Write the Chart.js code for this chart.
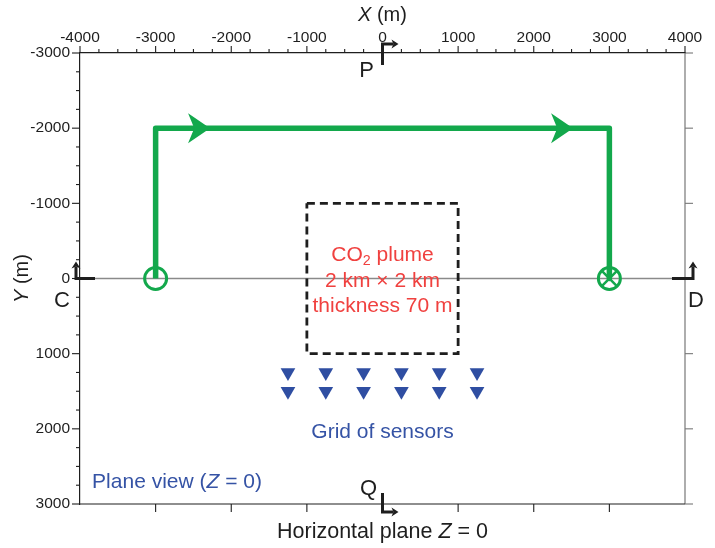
<!DOCTYPE html>
<html>
<head>
<meta charset="utf-8">
<script src="https://cdn.jsdelivr.net/npm/chart.js@4.4.1/dist/chart.umd.min.js"></script>
<style>
  html, body { margin: 0; padding: 0; background: #fff; }
  #wrap { width: 715px; height: 548px; }
</style>
</head>
<body>
<div id="wrap"><canvas id="plane-view" width="715" height="548"></canvas></div>
<script>
// Datos del esquema (metros)
const xRange = [-4000, 4000];
const yRange = [-3000, 3000];
const minorStep = 250;
const majorStep = 1000;

// linea Y = 0
const zeroLineX = [-4000, 4000];
const zeroLineY = [0, 0];

// recorrido verde fuente -> receptor
const pathX = [-3000, -3000, 3000, 3000];
const pathY = [0, -2000, -2000, 0];
const pathArrowX = [-2280, 2520];
const pathArrowY = [-2000, -2000];

const sourceX = [-3000];
const sourceY = [0];
const receiverX = [3000];
const receiverY = [0];

// pluma de CO2 (caja discontinua)
const plumeX = [-1000, 1000, 1000, -1000, -1000];
const plumeY = [-1000, -1000, 1000, 1000, -1000];

// malla de sensores
const sensorCols = [-1250, -750, -250, 250, 750, 1250];
const sensorRows = [1250, 1500];

// cortes P, Q, C, D
const sectionNames = ['P', 'Q', 'C', 'D'];
const sectionX = [0, 0, -4000, 4000];
const sectionY = [-3000, 3000, 0, 0];

// textos dentro del grafico
const noteLabels = [
    [['CO'], ['2', 'sub'], [' plume']],
    [['2 km \u00d7 2 km']],
    [['thickness 70 m']],
    [['Grid of sensors']],
    [['Plane view ('], ['Z', 'it'], [' = 0)']]
];
const noteX = [0, 0, 0, 0, -3840];
const noteY = [-315, 30, 365, 2040, 2710];

const xTitle = [['X', 'it'], [' (m)']];
const yTitle = [['Y', 'it'], [' (m)']];
const bottomTitle = [['Horizontal plane '], ['Z', 'it'], [' = 0']];

// Colores
const green = '#13a84c';
const red = '#f0413f';
const blue = '#3553a5';
const sensorBlue = '#2f4ea2';
const ink = '#1e1e1e';
const family = '"Liberation Sans", Arial, Helvetica, sans-serif';

const noteAlign = ['center', 'center', 'center', 'center', 'left'];
const noteColor = [red, red, red, blue, blue];

const toPoints = (xs, ys) => xs.map((v, i) => ({ x: v, y: ys[i] }));
const sensorPoints = [];
sensorRows.forEach(r => sensorCols.forEach(c => sensorPoints.push({ x: c, y: r })));

// texto con partes en cursiva / subindice
function drawParts(ctx, parts, x, y, align, size, color) {
    const fontOf = s => (s === 'it' ? 'italic ' : '') + (s === 'sub' ? size * 0.68 : size) + 'px ' + family;
    let total = 0;
    parts.forEach(p => { ctx.font = fontOf(p[1]); total += ctx.measureText(p[0]).width; });
    let cx = align === 'center' ? x - total / 2 : x;
    ctx.fillStyle = color;
    ctx.textAlign = 'left';
    ctx.textBaseline = 'middle';
    parts.forEach(p => {
        ctx.font = fontOf(p[1]);
        ctx.fillText(p[0], cx, p[1] === 'sub' ? y + size * 0.3 : y);
        cx += ctx.measureText(p[0]).width;
    });
}

function arrowHead(ctx, tx, ty, dir, len, half) {
    // dir: 'right' o 'up'
    ctx.beginPath();
    if (dir === 'right') {
        ctx.moveTo(tx, ty);
        ctx.lineTo(tx - len, ty - half);
        ctx.lineTo(tx - len * 0.72, ty);
        ctx.lineTo(tx - len, ty + half);
    } else {
        ctx.moveTo(tx, ty);
        ctx.lineTo(tx - half, ty + len);
        ctx.lineTo(tx, ty + len * 0.72);
        ctx.lineTo(tx + half, ty + len);
    }
    ctx.closePath();
    ctx.fill();
}

// formas de los cortes (desplazamientos en pixeles)
const sectionShape = {
    P: { tail: [0, 12], corner: [0, -9], tip: [16, -9], dir: 'right', label: [-16, 18] },
    Q: { tail: [0, -11], corner: [0, 8], tip: [16, 8], dir: 'right', label: [-14, -15] },
    C: { tail: [15, 0], corner: [-4, 0], tip: [-4, -17], dir: 'up', label: [-18, 22] },
    D: { tail: [-13, 0], corner: [8, 0], tip: [8, -17], dir: 'up', label: [11, 22] }
};

const planeDecor = {
    id: 'planeDecor',
    afterDatasetsDraw(chart) {
        const { ctx, chartArea: a, scales: { x, y } } = chart;
        ctx.save();

        // marco derecho (gris) e inferior
        ctx.lineWidth = 1.2;
        ctx.strokeStyle = '#777';
        ctx.beginPath();
        ctx.moveTo(a.right, a.top);
        ctx.lineTo(a.right, a.bottom);
        ctx.stroke();
        ctx.strokeStyle = ink;
        ctx.beginPath();
        ctx.moveTo(a.left, a.bottom);
        ctx.lineTo(a.right, a.bottom);
        ctx.stroke();

        // marcas de los ejes
        ctx.lineWidth = 1.1;
        x.ticks.forEach(t => {
            const px = x.getPixelForValue(t.value);
            const major = t.value % majorStep === 0;
            ctx.strokeStyle = ink;
            ctx.beginPath();
            ctx.moveTo(px, a.top);
            ctx.lineTo(px, a.top - (major ? 7 : 4));
            ctx.stroke();
            if (major && t.value > xRange[0] && t.value < xRange[1]) {
                ctx.beginPath();
                ctx.moveTo(px, a.bottom);
                ctx.lineTo(px, a.bottom + 8);
                ctx.stroke();
            }
        });
        y.ticks.forEach(t => {
            const py = y.getPixelForValue(t.value);
            const major = t.value % majorStep === 0;
            ctx.strokeStyle = ink;
            ctx.beginPath();
            ctx.moveTo(a.left, py);
            ctx.lineTo(a.left - (major ? 8 : 4), py);
            ctx.stroke();
            if (major) {
                ctx.strokeStyle = '#777';
                ctx.beginPath();
                ctx.moveTo(a.right, py);
                ctx.lineTo(a.right + 8, py);
                ctx.stroke();
            }
        });

        // flechas sobre el recorrido
        ctx.fillStyle = green;
        pathArrowX.forEach((v, i) => {
            arrowHead(ctx, x.getPixelForValue(v), y.getPixelForValue(pathArrowY[i]), 'right', 22, 15);
        });

        // cortes
        sectionNames.forEach((name, i) => {
            const s = sectionShape[name];
            const ax = x.getPixelForValue(sectionX[i]);
            const ay = y.getPixelForValue(sectionY[i]);
            ctx.strokeStyle = ink;
            ctx.fillStyle = ink;
            ctx.lineWidth = 3;
            ctx.lineCap = 'butt';
            ctx.beginPath();
            ctx.moveTo(ax + s.tail[0], ay + s.tail[1]);
            ctx.lineTo(ax + s.corner[0], ay + s.corner[1]);
            const back = 5;
            if (s.dir === 'right') ctx.lineTo(ax + s.tip[0] - back, ay + s.tip[1]);
            else ctx.lineTo(ax + s.tip[0], ay + s.tip[1] + back);
            ctx.stroke();
            arrowHead(ctx, ax + s.tip[0], ay + s.tip[1], s.dir, 7, 4.5);
            drawParts(ctx, [[name]], ax + s.label[0], ay + s.label[1], 'center', 22, ink);
        });

        // notas
        noteLabels.forEach((parts, i) => {
            drawParts(ctx, parts, x.getPixelForValue(noteX[i]), y.getPixelForValue(noteY[i]),
                noteAlign[i], 21, noteColor[i]);
        });

        // titulos
        const midX = (a.left + a.right) / 2;
        drawParts(ctx, xTitle, midX, 15, 'center', 20, ink);
        drawParts(ctx, bottomTitle, midX, a.bottom + 28, 'center', 21.5, ink);
        ctx.translate(22, y.getPixelForValue(0));
        ctx.rotate(-Math.PI / 2);
        drawParts(ctx, yTitle, 0, 0, 'center', 20, ink);
        ctx.restore();
    }
};

const tickLabel = v => (v % majorStep === 0 ? String(v) : '');

const ctx = document.getElementById('plane-view').getContext('2d');
const planeChart = new Chart(ctx, {
    type: 'scatter',
    data: {
        datasets: [
            {
                label: 'Y = 0',
                data: toPoints(zeroLineX, zeroLineY),
                showLine: true,
                borderColor: '#8a8a8a',
                borderWidth: 1.3,
                pointRadius: 0,
                order: 6
            },
            {
                label: 'Pluma',
                data: toPoints(plumeX, plumeY),
                showLine: true,
                borderColor: ink,
                borderWidth: 2.8,
                borderDash: [8, 5],
                pointRadius: 0,
                order: 5
            },
            {
                label: 'Recorrido',
                data: toPoints(pathX, pathY),
                showLine: true,
                borderColor: green,
                borderWidth: 5.5,
                borderJoinStyle: 'round',
                pointRadius: 0,
                order: 4
            },
            {
                label: 'Fuente',
                data: toPoints(sourceX, sourceY),
                pointStyle: 'circle',
                pointRadius: 11,
                borderWidth: 3,
                borderColor: green,
                backgroundColor: 'rgba(0,0,0,0)',
                order: 3
            },
            {
                label: 'Receptor',
                data: toPoints(receiverX, receiverY),
                pointStyle: 'circle',
                pointRadius: 11,
                borderWidth: 3,
                borderColor: green,
                backgroundColor: 'rgba(0,0,0,0)',
                order: 2
            },
            {
                label: 'Receptor X',
                data: toPoints(receiverX, receiverY),
                pointStyle: 'crossRot',
                pointRadius: 11,
                borderWidth: 2.5,
                borderColor: green,
                order: 1
            },
            {
                label: 'Sensores',
                data: sensorPoints,
                pointStyle: 'triangle',
                rotation: 180,
                pointRadius: 8.5,
                borderWidth: 0,
                backgroundColor: sensorBlue,
                borderColor: sensorBlue,
                order: 0
            }
        ]
    },
    options: {
        responsive: false,
        animation: false,
        events: [],
        layout: { padding: { left: 0, top: 0, right: 30, bottom: 44 } },
        plugins: {
            legend: { display: false },
            tooltip: { enabled: false }
        },
        scales: {
            x: {
                type: 'linear',
                position: 'top',
                min: xRange[0],
                max: xRange[1],
                afterFit: s => { s.height = 53; },
                grid: { display: false, drawTicks: false },
                border: { display: true, color: ink, width: 1.2 },
                ticks: {
                    stepSize: minorStep,
                    autoSkip: false,
                    maxRotation: 0,
                    padding: 6,
                    color: ink,
                    font: { family: family, size: 15.5 },
                    callback: tickLabel
                }
            },
            y: {
                type: 'linear',
                position: 'left',
                reverse: true,
                min: yRange[0],
                max: yRange[1],
                afterFit: s => { s.width = 80; },
                grid: { display: false, drawTicks: false },
                border: { display: true, color: ink, width: 1.2 },
                ticks: {
                    stepSize: minorStep,
                    autoSkip: false,
                    padding: 10,
                    color: ink,
                    font: { family: family, size: 15.5 },
                    callback: tickLabel
                }
            }
        }
    },
    plugins: [planeDecor]
});
</script>
</body>
</html>
